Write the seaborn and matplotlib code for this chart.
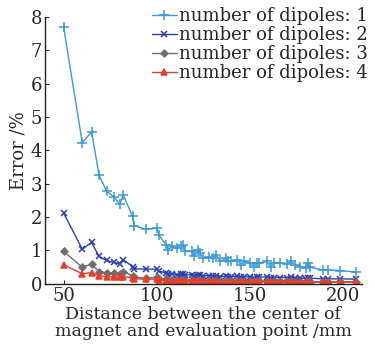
import matplotlib
matplotlib.use('Agg')
import matplotlib.pyplot as plt
import numpy as np
import pandas as pd
import seaborn as sns

# distance between magnet center and evaluation point (mm)
distance = [50, 60, 65, 69, 73, 77, 80, 82, 87, 88,
            94, 100, 101, 105, 106, 108, 111, 113, 114, 115,
            119, 120, 122, 123, 125, 128, 130, 132, 134, 137,
            138, 140, 143, 145, 147, 150, 152, 154, 155, 159,
            161, 163, 166, 170, 172, 174, 177, 180, 181, 182,
            189, 192, 198, 207]

err_1 = [7.7, 4.23, 4.56, 3.26, 2.78, 2.61, 2.39, 2.66, 2.02, 1.74,
         1.64, 1.67, 1.47, 1.17, 1.02, 1.12, 1.07, 1.12, 1.17, 0.97,
         0.97, 0.82, 1.0, 0.92, 0.77, 0.8, 0.77, 0.87, 0.67, 0.77,
         0.67, 0.67, 0.72, 0.57, 0.67, 0.62, 0.52, 0.62, 0.62, 0.67,
         0.52, 0.62, 0.62, 0.6, 0.67, 0.57, 0.52, 0.47, 0.62, 0.5,
         0.42, 0.42, 0.4, 0.35]

err_2 = [2.12, 1.04, 1.24, 0.82, 0.70, 0.64, 0.60, 0.72, 0.52, 0.45,
         0.44, 0.44, 0.38, 0.33, 0.30, 0.30, 0.28, 0.30, 0.29, 0.27,
         0.27, 0.25, 0.27, 0.26, 0.24, 0.25, 0.24, 0.25, 0.22, 0.23,
         0.22, 0.22, 0.23, 0.20, 0.21, 0.21, 0.19, 0.20, 0.20, 0.21,
         0.18, 0.19, 0.19, 0.19, 0.20, 0.18, 0.17, 0.16, 0.19, 0.17,
         0.15, 0.15, 0.15, 0.14]

err_3 = [0.97, 0.50, 0.59, 0.37, 0.33, 0.32, 0.30, 0.37, 0.24, 0.20,
         0.17, 0.20, 0.16, 0.14, 0.12, 0.13, 0.12, 0.13, 0.13, 0.11,
         0.11, 0.10, 0.11, 0.11, 0.10, 0.10, 0.10, 0.10, 0.09, 0.10,
         0.09, 0.09, 0.09, 0.08, 0.09, 0.09, 0.08, 0.08, 0.08, 0.09,
         0.07, 0.08, 0.08, 0.08, 0.08, 0.07, 0.07, 0.07, 0.08, 0.07,
         0.06, 0.06, 0.06, 0.06]

err_4 = [0.57, 0.30, 0.34, 0.24, 0.22, 0.20, 0.20, 0.22, 0.17, 0.15,
         0.14, 0.14, 0.12, 0.10, 0.09, 0.10, 0.09, 0.10, 0.10, 0.08,
         0.08, 0.08, 0.08, 0.08, 0.07, 0.08, 0.07, 0.08, 0.07, 0.07,
         0.07, 0.07, 0.07, 0.06, 0.07, 0.06, 0.06, 0.06, 0.06, 0.07,
         0.05, 0.06, 0.06, 0.06, 0.06, 0.05, 0.05, 0.05, 0.06, 0.05,
         0.05, 0.05, 0.05, 0.05]

labels = ['number of dipoles: 1', 'number of dipoles: 2',
          'number of dipoles: 3', 'number of dipoles: 4']

sns.set_style('ticks')
plt.rcParams['font.family'] = ['DejaVu Serif']
plt.rcParams['mathtext.fontset'] = 'dejavuserif'

fig = plt.figure(figsize=(3.75, 3.47), dpi=100)
ax = fig.add_axes([0.12, 0.182, 0.845, 0.769])

colors = ['#3a9ad6', '#2b3fb3', '#6e6e6e', '#e2402e']
markers = ['+', 'x', 'D', '^']
msizes = [7, 5, 3.5, 4.5]

for vals, lab, c, m, ms in zip([err_1, err_2, err_3, err_4], labels, colors, markers, msizes):
    df = pd.DataFrame({'d': distance, 'e': vals})
    sns.lineplot(data=df, x='d', y='e', ax=ax, color=c, marker=m, markersize=ms,
                 markeredgecolor=c, markeredgewidth=1.1, linewidth=1.0, label=lab)

ax.set_xlim(40, 210)
ax.set_ylim(0, 8)
ax.set_xticks([50, 100, 150, 200])
ax.set_yticks(range(0, 9))
ax.tick_params(direction='in', labelsize=13, length=3, pad=2)
sns.despine(ax=ax)
for s in ['left', 'bottom']:
    ax.spines[s].set_linewidth(1.0)
    ax.spines[s].set_color('#222222')

ax.set_xlabel('Distance between the center of\nmagnet and evaluation point /mm',
              fontsize=12.5, labelpad=1, linespacing=1.0)
ax.set_ylabel('Error /%', fontsize=13, labelpad=2)

leg = ax.legend(loc='upper right', bbox_to_anchor=(1.0, 1.0), bbox_transform=fig.transFigure,
                frameon=False, fontsize=13, handlelength=1.4, handletextpad=0.1,
                labelspacing=0.05, borderaxespad=0.2, borderpad=0.2)

fig.savefig('out.png', dpi=100)
